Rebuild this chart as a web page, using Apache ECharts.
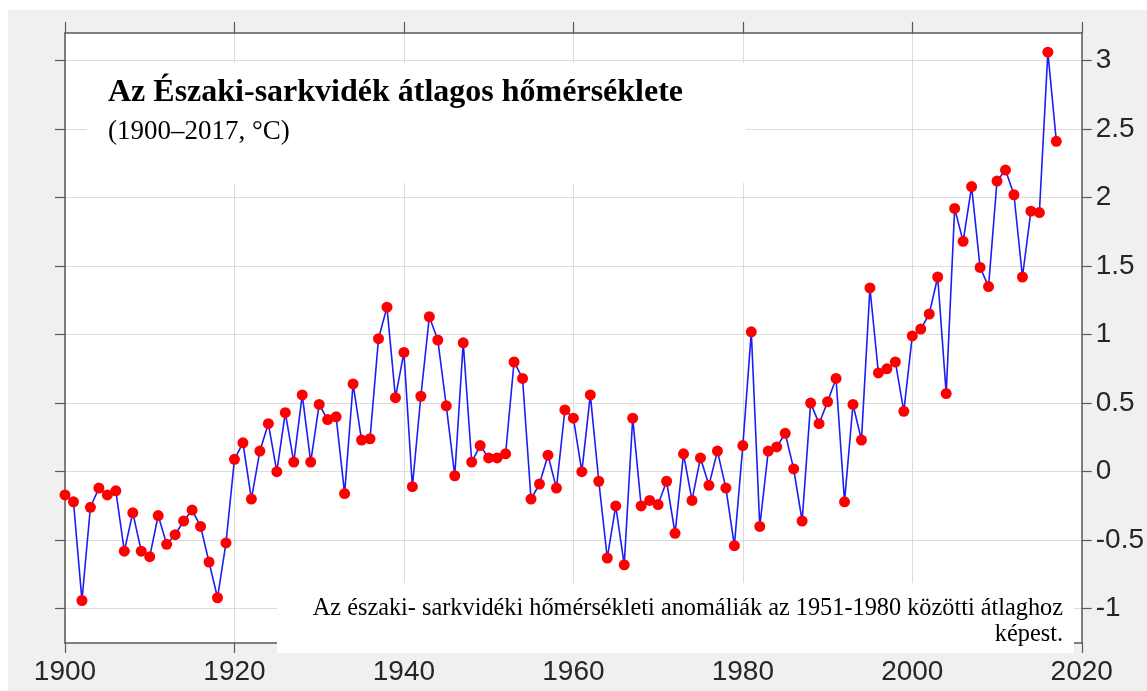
<!DOCTYPE html>
<html>
<head>
<meta charset="utf-8">
<script src="https://cdn.jsdelivr.net/npm/echarts@6/dist/echarts.min.js"></script>
<style>
html,body{margin:0;padding:0;background:#fff;}
#chart{width:1147px;height:691px;}
</style>
</head>
<body>
<div id="chart"></div>
<script>
// ---- data ----
const years = [];
for (let y = 1900; y <= 2017; y++) years.push(y);
const anomalies = [
  -0.17, -0.22, -0.94, -0.26, -0.12, -0.17, -0.14, -0.58, -0.30, -0.58,
  -0.62, -0.32, -0.53, -0.46, -0.36, -0.28, -0.40, -0.66, -0.92, -0.52,
   0.09,  0.21, -0.20,  0.15,  0.35,  0.00,  0.43,  0.07,  0.56,  0.07,
   0.49,  0.38,  0.40, -0.16,  0.64,  0.23,  0.24,  0.97,  1.20,  0.54,
   0.87, -0.11,  0.55,  1.13,  0.96,  0.48, -0.03,  0.94,  0.07,  0.19,
   0.10,  0.10,  0.13,  0.80,  0.68, -0.20, -0.09,  0.12, -0.12,  0.45,
   0.39,  0.00,  0.56, -0.07, -0.63, -0.25, -0.68,  0.39, -0.25, -0.21,
  -0.24, -0.07, -0.45,  0.13, -0.21,  0.10, -0.10,  0.15, -0.12, -0.54,
   0.19,  1.02, -0.40,  0.15,  0.18,  0.28,  0.02, -0.36,  0.50,  0.35,
   0.51,  0.68, -0.22,  0.49,  0.23,  1.34,  0.72,  0.75,  0.80,  0.44,
   0.99,  1.04,  1.15,  1.42,  0.57,  1.92,  1.68,  2.08,  1.49,  1.35,
   2.12,  2.20,  2.02,  1.42,  1.90,  1.89,  3.06,  2.41
];
const xRange = [1900, 2020];
const xStep = 20;
const yRange = [-1.25, 3.2];
const yTicks = [-1, -0.5, 0, 0.5, 1, 1.5, 2, 2.5, 3];
const titleText = 'Az Északi-sarkvidék átlagos hőmérséklete';
const subtitleText = '(1900–2017, °C)';
const noteLines = ['Az északi- sarkvidéki hőmérsékleti anomáliák az 1951-1980 közötti átlaghoz', 'képest.'];

const seriesData = years.map((y, i) => [y, anomalies[i]]);

const chart = echarts.init(document.getElementById('chart'), null, {renderer: 'canvas'});
const axisLineColor = '#5a5a5a';
const gridColor = '#dcdcdc';
const labelFont = 'Liberation Sans';

chart.setOption({
  animation: false,
  backgroundColor: '#f0f0f0',
  grid: {left: 65, right: 64, top: 33, bottom: 48, show: true, backgroundColor: '#ffffff', borderWidth: 0},
  xAxis: [
    {
      type: 'value', position: 'bottom', min: xRange[0], max: xRange[1], interval: xStep,
      axisLine: {show: true, onZero: false, lineStyle: {color: axisLineColor, width: 1.5}},
      axisTick: {show: true, inside: false, length: 10, lineStyle: {color: axisLineColor, width: 1.2}},
      axisLabel: {show: true, margin: 15, fontSize: 28, fontFamily: labelFont, color: '#262626',
                  formatter: v => String(v)},
      splitLine: {show: true, lineStyle: {color: gridColor, width: 1}}
    },
    {
      type: 'value', position: 'top', min: xRange[0], max: xRange[1], interval: xStep,
      axisLine: {show: true, onZero: false, lineStyle: {color: axisLineColor, width: 1.5}},
      axisTick: {show: true, inside: false, length: 11, lineStyle: {color: axisLineColor, width: 1.2}},
      axisLabel: {show: false},
      splitLine: {show: false}
    }
  ],
  yAxis: [
    {
      type: 'value', position: 'right', min: yRange[0], max: yRange[1], splitNumber: 9,
      axisLine: {show: true, onZero: false, lineStyle: {color: axisLineColor, width: 1.5}},
      axisTick: {show: true, inside: false, length: 10, customValues: yTicks, lineStyle: {color: axisLineColor, width: 1.2}},
      axisLabel: {show: true, margin: 14, fontSize: 28, fontFamily: labelFont, color: '#262626',
                  customValues: yTicks},
      splitLine: {show: true, lineStyle: {color: gridColor, width: 1}}
    },
    {
      type: 'value', position: 'left', min: yRange[0], max: yRange[1], splitNumber: 9,
      axisLine: {show: true, onZero: false, lineStyle: {color: axisLineColor, width: 1.5}},
      axisTick: {show: true, inside: false, length: 10, customValues: yTicks, lineStyle: {color: axisLineColor, width: 1.2}},
      axisLabel: {show: false},
      splitLine: {show: false}
    }
  ],
  series: [{
    type: 'line',
    xAxisIndex: 0, yAxisIndex: 0,
    data: seriesData,
    symbol: 'circle',
    symbolSize: 11,
    showSymbol: true,
    lineStyle: {color: '#1c1cf5', width: 1.6},
    itemStyle: {color: '#ff0000', borderWidth: 0},
    z: 3
  }],
  graphic: [
    {type: 'rect', z: -1, silent: true, shape: {x: 0, y: 0, width: 1147, height: 10}, style: {fill: '#ffffff'}},
    {type: 'rect', z: -1, silent: true, shape: {x: 0, y: 0, width: 8, height: 691}, style: {fill: '#ffffff'}},
    {type: 'rect', z: 100, silent: true, shape: {x: 87, y: 63, width: 659, height: 120}, style: {fill: '#ffffff'}},
    {type: 'text', z: 101, silent: true, style: {x: 108, y: 93, text: titleText, textAlign: 'left', textVerticalAlign: 'middle',
      font: 'bold 32px "Liberation Serif"', fill: '#000000'}},
    {type: 'text', z: 101, silent: true, style: {x: 108, y: 132, text: subtitleText, textAlign: 'left', textVerticalAlign: 'middle',
      font: '27px "Liberation Serif"', fill: '#000000'}},
    {type: 'rect', z: 100, silent: true, shape: {x: 277, y: 583, width: 797, height: 70}, style: {fill: '#ffffff'}},
    {type: 'text', z: 101, silent: true, style: {x: 1063, y: 596, text: noteLines.join('\n'), textAlign: 'right', textVerticalAlign: 'top',
      font: '24.3px "Liberation Serif"', lineHeight: 26, fill: '#000000'}}
  ]
});
</script>
</body>
</html>
